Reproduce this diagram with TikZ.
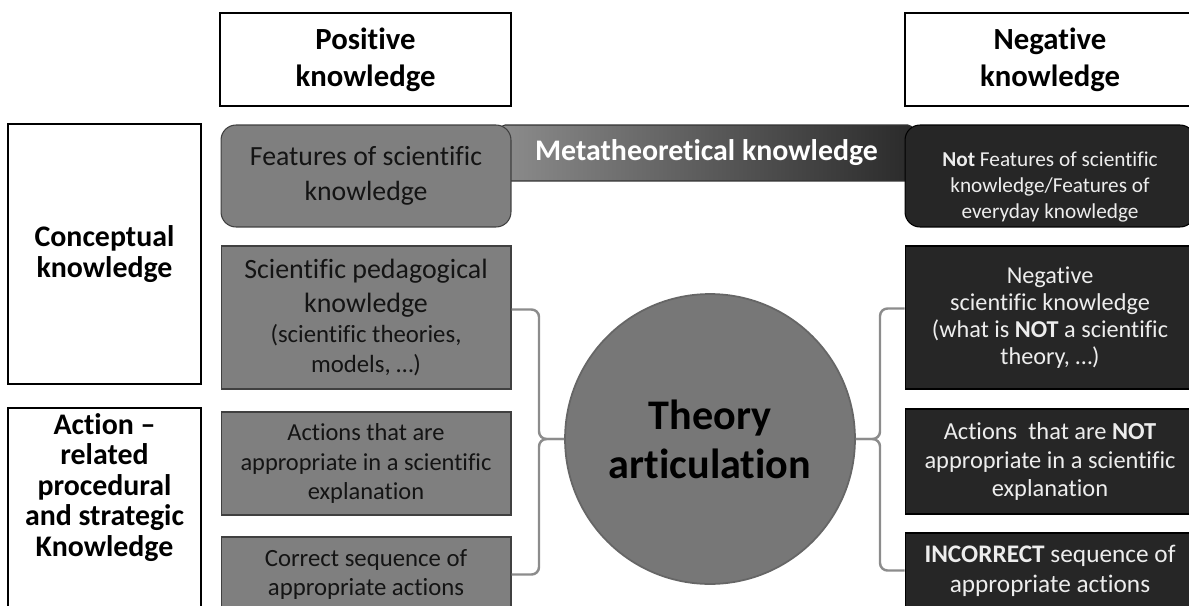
\documentclass[tikz,border=0pt]{standalone}
\usepackage{fontspec}
\setmainfont{Carlito}[Ligatures=NoCommon]
\definecolor{boxgray}{HTML}{7F7F7F}
\definecolor{boxdark}{HTML}{262626}
\definecolor{hubgray}{HTML}{777777}
\definecolor{bracketgray}{HTML}{8C8C8C}
\definecolor{textlight}{HTML}{EDEDED}
\definecolor{metaleft}{HTML}{8C8C8C}
\definecolor{metaright}{HTML}{2A2A2A}

\begin{document}
\begin{tikzpicture}[x=0.02cm,y=-0.02cm,
% header boxes
headbox/.style={draw=black, line width=1.1pt, fill=white, minimum width=5.82cm, minimum height=1.86cm, align=center, font=\fontsize{17.5}{21}\selectfont\bfseries},
% side boxes
sidebox/.style={draw=black, line width=1.1pt, fill=white, minimum width=3.86cm, minimum height=5.2cm},
sidetext/.style={align=center, font=\fontsize{17}{17.4}\selectfont\bfseries},
% gray boxes
posbox/.style={draw=black!75, line width=0.6pt, fill=boxgray, minimum width=5.8cm, align=center, text=black!92},
% dark boxes
negbox/.style={draw=black, line width=0.6pt, fill=boxdark, minimum width=5.8cm, align=center, text=textlight},
% gradient bar
metabar/.style={draw=black!80, line width=0.6pt, rounded corners=0.1cm, left color=metaleft, right color=metaright, minimum width=8.26cm, minimum height=1.12cm, text=white, font=\fontsize{17}{20}\selectfont\bfseries},
% circle
hub/.style={circle, draw=black!60, line width=1pt, fill=hubgray, minimum size=5.8cm, align=center, font=\fontsize{24}{28}\selectfont\bfseries},
% brackets
bracket/.style={draw=bracketgray, line width=1.4pt, rounded corners=0.15cm},
]
\clip (0,0) rectangle (1189,605);

% headers
\node (pos) at (365.5,59.5) [headbox]{Positive\\knowledge};
\node (neg) at (1050,59.5) [headbox]{Negative\\knowledge};

% side boxes
\node (concept) at (104.5,254) [sidebox]{};
\node at (concept.center) [sidetext]{Conceptual\\knowledge};
\node (action) at (104.5,538) [sidebox]{};
\node at (action.north) [sidetext, anchor=north]{Action –\\related\\procedural\\and strategic\\Knowledge};

% metatheoretical bar
\node (meta) at (706.5,153) [metabar]{Metatheoretical knowledge};

% positive side
\node (feat) at (366,176) [posbox, rounded corners=0.3cm, minimum height=2.04cm, font=\fontsize{15.8}{19.8}\selectfont]{Features of scientific\\knowledge};
\node (scipeda) at (366,317.5) [posbox, minimum height=2.86cm, font=\fontsize{15.9}{19.3}\selectfont]{Scientific pedagogical\\knowledge\\[-2pt]{\fontsize{14.1}{17}\selectfont(scientific theories,}\\[-2pt]{\fontsize{14.1}{17}\selectfont models, …)}};
\node (actapp) at (366,463.5) [posbox, minimum height=2.06cm, font=\fontsize{13.9}{17}\selectfont]{Actions that are\\appropriate in a scientific\\explanation};
\node (correct) at (366,574.5) [posbox, minimum height=1.5cm, font=\fontsize{14.1}{17}\selectfont]{Correct sequence of\\appropriate actions};

% negative side
\node (notfeat) at (1050,176) [negbox, rounded corners=0.3cm, minimum height=2.04cm]{};
\node at ([yshift=-0.22cm]notfeat.center) [align=center, text=textlight, font=\fontsize{12.1}{14.7}\selectfont]{\textbf{Not} Features of scientific\\knowledge/Features of\\everyday knowledge};
\node (negsci) at (1050,317.5) [negbox, minimum height=2.86cm, font=\fontsize{13.8}{15.4}\selectfont]{Negative\\scientific knowledge\\(what is \textbf{NOT} a scientific\\theory, …)};
\node (actnot) at (1050,461.5) [negbox, minimum height=2.1cm, font=\fontsize{13.9}{16}\selectfont]{Actions\ \ that are \textbf{NOT}\\appropriate in a scientific\\explanation};
\node (incorrect) at (1050,570.5) [negbox, minimum height=1.5cm, font=\fontsize{14.4}{17}\selectfont]{\textbf{INCORRECT} sequence of\\appropriate actions};

% centre
\node (theory) at (710,439) [hub]{Theory\\articulation};

% brackets
\coordinate (lspine) at (539,439);
\coordinate (rspine) at (880,439);
\draw[bracket] ([yshift=0.16cm]scipeda.east) -| (lspine) -- (theory.west);
\draw[bracket] (correct.east) -| (lspine) -- (theory.west);
\draw[bracket] ([yshift=0.18cm]negsci.west) -| (rspine) -- (theory.east);
\draw[bracket] (incorrect.west) -| (rspine) -- (theory.east);
\end{tikzpicture}
\end{document}
